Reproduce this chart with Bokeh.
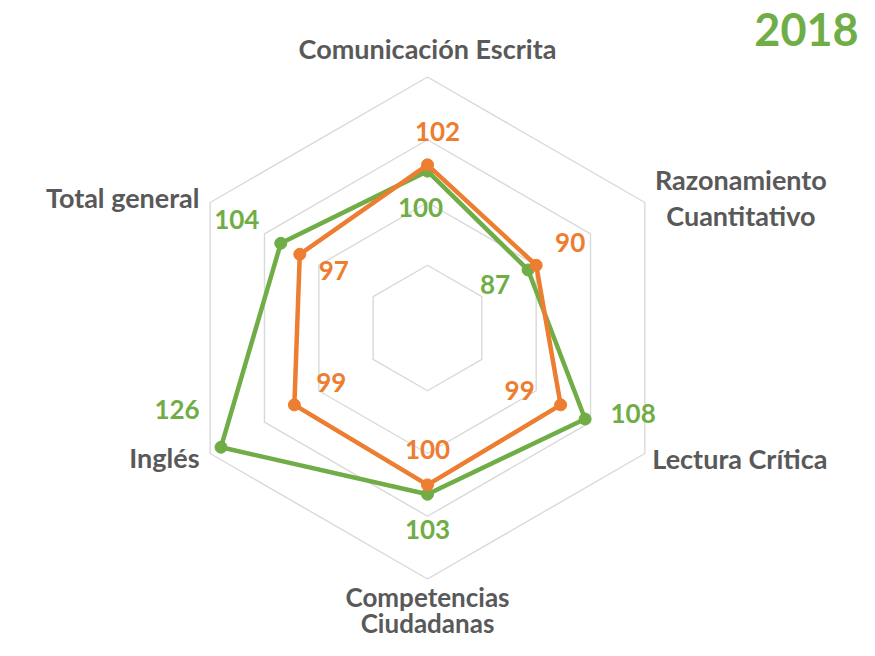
import math
from bokeh.plotting import figure
from bokeh.models import Range1d, ColumnDataSource
from bokeh.core.properties import value
from bokeh.embed import file_html
from bokeh.resources import INLINE

# ---- data ----
categories = ["Comunicación Escrita", "Razonamiento\nCuantitativo", "Lectura Crítica",
              "Competencias\nCiudadanas", "Inglés", "Total general"]
orange_values = [102, 90, 99, 100, 99, 97]
green_values = [100, 87, 108, 103, 126, 104]
axis_min = 50
grid_values = [70, 90, 110, 130]
title_text = "2018"

# ---- styles ----
GREEN = "#70AD47"
ORANGE = "#ED7D31"
GREY_TEXT = "#595959"
GRID = "#D9D9D9"
FONT = "Lato"

W, H = 859, 640
K = 3.1375            # px per value unit
CX, CY = 427, 327.5   # chart centre in figure pixels

p = figure(width=W, height=H, output_backend="svg", toolbar_location=None,
           x_range=Range1d(-CX / K, (W - CX) / K),
           y_range=Range1d(-(H - CY) / K, CY / K),
           x_axis_location=None, y_axis_location=None, min_border=0)
p.grid.visible = False
p.outline_line_color = None
p.background_fill_color = "white"

n = len(categories)
angles = [i * 2 * math.pi / n for i in range(n)]


def polar(v, i):
    r = v - axis_min
    return r * math.sin(angles[i]), r * math.cos(angles[i])


# grid hexagons
gxs, gys = [], []
for g in grid_values:
    pts = [polar(g, i) for i in range(n)] + [polar(g, 0)]
    gxs.append([a for a, b in pts])
    gys.append([b for a, b in pts])
p.multi_line(gxs, gys, line_color=GRID, line_width=1.4)


def series(vals, color):
    pts = [polar(v, i) for i, v in enumerate(vals)]
    xs = [a for a, b in pts]
    ys = [b for a, b in pts]
    p.line(xs + [xs[0]], ys + [ys[0]], line_color=color, line_width=4.5, line_join="round")
    p.scatter(xs, ys, size=12, fill_color=color, line_color=color)
    return xs, ys


gx, gy = series(green_values, GREEN)
ox, oy = series(orange_values, ORANGE)

# data labels: pixel offsets from points
orange_off = [(10, -33), (34, -23), (-41, -14), (0, -35), (37, -22), (34, 16)]
green_off = [(-7, 36), (-33, 15), (48, -5), (0, 35), (-44, -38), (-44, -24)]


def labels(xs, ys, vals, offs, color):
    src = ColumnDataSource(dict(
        x=[x + dx / K for x, (dx, dy) in zip(xs, offs)],
        y=[y - dy / K for y, (dx, dy) in zip(ys, offs)],
        t=[str(v) for v in vals]))
    p.text("x", "y", text="t", source=src, text_color=color, text_font=value(FONT),
           text_font_style="bold", text_font_size="26px", text_align="center",
           text_baseline="middle")


labels(gx, gy, green_values, green_off, GREEN)
labels(ox, oy, orange_values, orange_off, ORANGE)

# category labels: per line pixel offsets from outer vertex (dx, dy, align, size)
cat_off = [
    [(0, -28.5, "center", 27)],
    [(96, -23, "center", 27), (96, 13, "center", 27)],
    [(95, 5, "center", 27)],
    [(0, 18, "center", 26), (0, 43.5, "center", 26)],
    [(-10.6, 4, "right", 27)],
    [(-10.6, -5, "right", 27)],
]
for i, cat in enumerate(categories):
    x0, y0 = polar(grid_values[-1], i)
    for line, (dx, dy, al, fs) in zip(cat.split("\n"), cat_off[i]):
        p.text([x0 + dx / K], [y0 - dy / K], text=[line], text_color=GREY_TEXT,
               text_font=value(FONT), text_font_style="bold", text_font_size=f"{fs}px",
               text_align=al, text_baseline="middle")

# title
p.text([(806 - CX) / K], [(CY - 29) / K], text=[title_text], text_color=GREEN,
       text_font=value(FONT), text_font_style="bold", text_font_size="45px",
       text_align="center", text_baseline="middle")

open("out.html", "w").write(file_html(p, INLINE))
